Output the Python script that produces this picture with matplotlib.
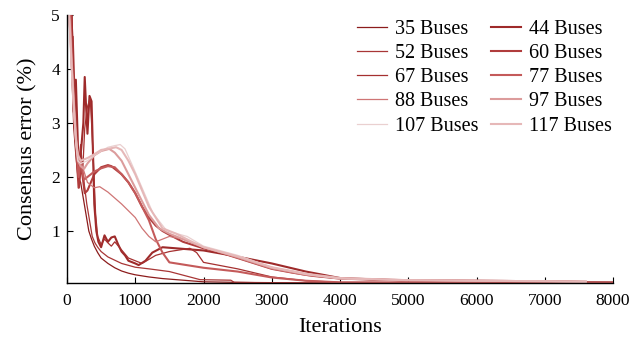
"""
Consensus error vs iterations for the bus test systems.
Run: python plot.py
"""

import matplotlib
matplotlib.use('Agg')
import matplotlib.pyplot as plt

plt.rcParams.update({
    'font.family':       'Liberation Serif',
    'font.size':         12,
    'axes.linewidth':    1.0,
    'xtick.direction':   'in',
    'ytick.direction':   'in',
    'xtick.major.size':  4,
    'ytick.major.size':  4,
    'axes.spines.top':   False,
    'axes.spines.right': False,
})

# ============================================================
# DATA
# ============================================================
labels = ['35 Buses', '44 Buses', '52 Buses', '60 Buses', '67 Buses',
          '77 Buses', '88 Buses', '97 Buses', '107 Buses', '117 Buses']

it_35 = [0, 40, 60, 80, 100, 130, 160, 200, 240, 280, 320, 360, 400, 450, 500, 600,
         700, 800, 900, 1000, 1200, 1400, 1600, 1800, 2000, 2500, 3000, 4000, 8000]
err_35 = [5.6, 5.0, 4.2, 3.6, 2.9, 2.4, 2.0, 1.9, 1.6, 1.3, 1.0, 0.85, 0.72, 0.6, 0.5, 0.4,
          0.32, 0.26, 0.22, 0.19, 0.15, 0.12, 0.10, 0.08, 0.06, 0.05, 0.04, 0.035, 0.03]

it_44 = [0, 60, 80, 100, 130, 160, 180, 200, 240, 260, 280, 300, 330, 360, 380, 400,
         430, 460, 500, 550, 600, 650, 700, 750, 800, 850, 900, 1000, 1050, 1150, 1250,
         1400, 1600, 1800, 2000, 2400, 3000, 3500, 4000, 5000, 6000, 8000]
err_44 = [5.6, 5.2, 4.5, 3.2, 3.8, 2.6, 2.0, 2.4, 3.0, 3.85, 3.3, 2.8, 3.5, 3.4, 2.5, 1.5,
          1.0, 0.8, 0.7, 0.92, 0.8, 0.88, 0.9, 0.75, 0.62, 0.55, 0.45, 0.4, 0.37, 0.45, 0.6,
          0.7, 0.68, 0.66, 0.64, 0.55, 0.4, 0.25, 0.13, 0.08, 0.06, 0.05]

it_52 = [0, 50, 70, 90, 120, 150, 180, 210, 250, 290, 330, 370, 410, 450, 500, 600,
         800, 1000, 1200, 1500, 1800, 1950, 2400, 2450, 3500, 8000]
err_52 = [5.5, 5.1, 4.0, 4.6, 3.4, 2.6, 1.8, 2.3, 1.9, 1.5, 1.2, 0.9, 0.78, 0.7, 0.62, 0.52,
          0.4, 0.33, 0.3, 0.25, 0.15, 0.1, 0.09, 0.05, 0.04, 0.035]

it_60 = [0, 50, 80, 110, 140, 170, 200, 230, 260, 300, 350, 400, 500, 600, 650, 700,
         800, 900, 1000, 1100, 1200, 1300, 1400, 1500, 1700, 2000, 2200, 2500, 2800, 3000,
         3300, 3600, 4000, 4500, 5000, 6000, 7000, 7600]
err_60 = [5.5, 5.0, 4.0, 3.0, 2.4, 1.8, 2.2, 2.0, 1.7, 1.75, 1.9, 2.05, 2.18, 2.22, 2.2, 2.15,
          2.05, 1.9, 1.7, 1.45, 1.25, 1.1, 1.0, 0.93, 0.8, 0.68, 0.62, 0.5, 0.38, 0.3,
          0.23, 0.17, 0.12, 0.1, 0.09, 0.08, 0.07, 0.06]

it_67 = [0, 70, 90, 110, 140, 170, 200, 230, 260, 300, 340, 360, 390, 420, 450, 500,
         550, 600, 650, 700, 800, 900, 1000, 1100, 1300, 1500, 1800, 1900, 2000, 2500,
         3000, 3500, 4000, 8000]
err_67 = [5.6, 5.3, 4.1, 3.3, 2.7, 2.2, 2.6, 2.1, 2.9, 3.3, 3.46, 3.0, 2.2, 1.3, 0.9, 0.75,
          0.85, 0.78, 0.72, 0.8, 0.65, 0.5, 0.45, 0.4, 0.55, 0.62, 0.68, 0.6, 0.42, 0.3,
          0.15, 0.08, 0.05, 0.04]

it_77 = [0, 50, 80, 110, 140, 170, 200, 250, 300, 400, 500, 600, 700, 800, 900, 1000,
         1100, 1200, 1300, 1400, 1500, 1700, 2000, 2500, 3000, 3500, 4000, 8000]
err_77 = [5.5, 5.0, 3.9, 3.1, 2.5, 2.0, 2.3, 1.95, 2.0, 2.1, 2.16, 2.2, 2.18, 2.05, 1.9, 1.7,
          1.45, 1.2, 0.85, 0.6, 0.42, 0.38, 0.32, 0.25, 0.14, 0.08, 0.05, 0.04]

it_88 = [0, 50, 80, 110, 150, 200, 250, 300, 400, 480, 600, 800, 1000, 1100, 1200, 1300,
         1400, 1500, 1700, 2000, 2500, 3000, 3500, 4000, 5000, 6000, 7000, 7600]
err_88 = [5.3, 4.6, 3.8, 3.0, 2.5, 2.3, 2.1, 1.9, 1.8, 1.82, 1.72, 1.5, 1.25, 1.05, 0.9, 0.8,
          0.85, 0.9, 0.85, 0.7, 0.5, 0.3, 0.18, 0.12, 0.09, 0.08, 0.07, 0.06]

it_97 = [0, 40, 70, 100, 130, 160, 200, 250, 300, 400, 500, 620, 700, 800, 900, 1000,
         1100, 1200, 1350, 1500, 1700, 2000, 2500, 3000, 3500, 4000, 5000, 6000, 7000, 7600]
err_97 = [5.4, 4.9, 4.1, 3.4, 2.8, 2.3, 2.2, 2.15, 2.25, 2.4, 2.48, 2.52, 2.45, 2.3, 2.05, 1.8,
          1.55, 1.3, 1.05, 0.95, 0.85, 0.7, 0.52, 0.32, 0.2, 0.12, 0.09, 0.08, 0.07, 0.06]

it_107 = [0, 40, 70, 100, 130, 160, 200, 300, 400, 500, 600, 700, 780, 850, 970, 1100,
          1260, 1465, 1760, 2000, 2500, 3000, 3500, 4000, 5000, 6000, 7000, 7600]
err_107 = [5.3, 4.7, 3.9, 3.2, 2.6, 2.3, 2.25, 2.3, 2.4, 2.48, 2.55, 2.58, 2.6, 2.52, 2.18, 1.8,
           1.33, 1.0, 0.9, 0.72, 0.55, 0.33, 0.2, 0.12, 0.09, 0.08, 0.07, 0.06]

it_117 = [0, 40, 70, 100, 130, 160, 200, 300, 400, 500, 600, 720, 800, 900, 1000, 1100,
          1200, 1400, 1600, 1800, 2000, 2500, 3000, 3500, 4000, 5000, 6000, 7000, 7600]
err_117 = [5.4, 4.8, 4.0, 3.3, 2.7, 2.4, 2.3, 2.35, 2.42, 2.5, 2.52, 2.55, 2.5, 2.3, 2.05, 1.75,
           1.45, 1.05, 0.95, 0.82, 0.7, 0.53, 0.33, 0.21, 0.13, 0.09, 0.08, 0.07, 0.06]

x_ticks = [0, 1000, 2000, 3000, 4000, 5000, 6000, 7000, 8000]
y_ticks = [1, 2, 3, 4, 5]
# ============================================================

series = [(it_35, err_35), (it_44, err_44), (it_52, err_52), (it_60, err_60),
          (it_67, err_67), (it_77, err_77), (it_88, err_88), (it_97, err_97),
          (it_107, err_107), (it_117, err_117)]

colors = ['#8c1c1c', '#9e2a2a', '#a83636', '#b03c3c', '#a53030',
          '#c45a5a', '#cf7575', '#dc9c9c', '#ead0d0', '#e6b8b8']
widths = [0.9, 1.5, 0.9, 1.5, 0.9, 1.5, 0.9, 1.5, 0.9, 1.5]

fig = plt.figure(figsize=(6.44, 3.45), dpi=100)
ax = fig.add_axes([0.104, 0.180, 0.848, 0.777])

lines = []
for (x, y), lab, c, lw in zip(series, labels, colors, widths):
    ln, = ax.plot(x, y, color=c, linewidth=lw, label=lab)
    lines.append(ln)

ax.set_xlim(0, 8000)
ax.set_ylim(0.04, 5)
ax.set_xticks(x_ticks)
ax.set_yticks(y_ticks)
ax.set_xlabel('Iterations', fontsize=16, labelpad=7)
ax.set_ylabel('Consensus error (%)', fontsize=16, labelpad=10)
ax.tick_params(labelsize=12.5)
ax.tick_params(axis='x', pad=7)
ax.tick_params(axis='y', pad=5)

# legend fills row by row: 35/44, 52/60, ...
order = [0, 2, 4, 6, 8, 1, 3, 5, 7, 9]
ax.legend([lines[i] for i in order], [labels[i] for i in order],
          loc='upper right', ncol=2, frameon=False, fontsize=14.5,
          handlelength=1.5, handletextpad=0.4, columnspacing=0.6,
          labelspacing=0.25, borderaxespad=0.0, bbox_to_anchor=(1.013, 1.011))

fig.savefig('out.png', dpi=100)
plt.close(fig)
